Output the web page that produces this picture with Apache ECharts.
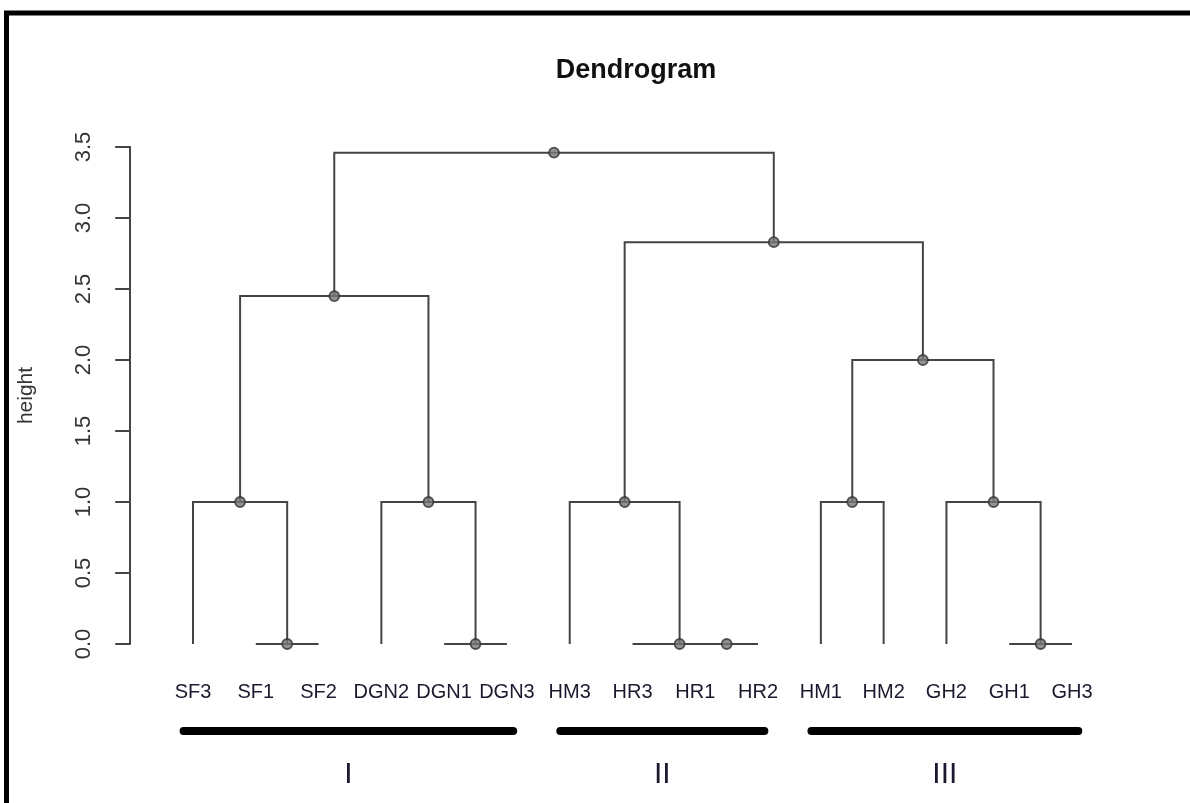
<!DOCTYPE html>
<html>
<head>
<meta charset="utf-8">
<script src="https://cdn.jsdelivr.net/npm/echarts@6/dist/echarts.min.js"></script>
<style>
html,body{margin:0;padding:0;background:#fff;}
#chart{width:1190px;height:803px;}
</style>
</head>
<body>
<div id="chart"></div>
<script>
// ---- data ----
const leafLabels = ['SF3','SF1','SF2','DGN2','DGN1','DGN3','HM3','HR3','HR1','HR2','HM1','HM2','GH2','GH1','GH3'];
// hclust-style merges: negative = leaf (1-based), positive = earlier merge (1-based)
const mergeLeft   = [-2, -5, -9, -8, -14, -1, -4, -7, -11, -13, 6, 9, 8, 11];
const mergeRight  = [-3, -6, -10, 3, -15, 1, 2, 4, -12, 5, 7, 10, 12, 13];
const mergeHeight = [0, 0, 0, 0, 0, 1.0, 1.0, 1.0, 1.0, 1.0, 2.45, 2.0, 2.83, 3.46];
const groupNames = ['I', 'II', 'III'];
const groupFirstLeaf = [1, 7, 11];
const groupLastLeaf = [6, 10, 15];
const yMin = 0, yMax = 3.5, yStep = 0.5;

// ---- build tree geometry in data units ----
const nodeX = [], nodeH = [];
function childX(c){ return c < 0 ? -c : nodeX[c-1]; }
function childH(c){ return c < 0 ? 0 : nodeH[c-1]; }
const segData = [], pointData = [];
for (let k = 0; k < mergeHeight.length; k++){
  const l = mergeLeft[k], r = mergeRight[k], h = mergeHeight[k];
  const xl = childX(l), xr = childX(r);
  nodeX.push((xl + xr) / 2); nodeH.push(h);
  segData.push([xl, childH(l), xr, childH(r), h]);
  pointData.push([(xl + xr) / 2, h]);
}
const leafData = leafLabels.map((n, i) => [i + 1, 0, i]);
const groupData = groupNames.map((n, i) => [groupFirstLeaf[i], groupLastLeaf[i], i]);

const FONT = 'Liberation Sans, Arial, sans-serif';
const LEAF_GAP = 62.786;
const X_MIN = 1 - 68 / LEAF_GAP, X_MAX = leafLabels.length + 1;
const chart = echarts.init(document.getElementById('chart'));
chart.setOption({
  backgroundColor: '#fff',
  animation: false,
  title: {
    text: 'Dendrogram', left: 631, top: 52, textAlign: 'center',
    textStyle: { fontFamily: FONT, fontSize: 27, fontWeight: 'bold', color: '#111' }
  },
  grid: { left: 125, top: 147, width: (X_MAX - X_MIN) * LEAF_GAP, height: 497 },
  xAxis: {
    type: 'value', min: X_MIN, max: X_MAX, show: false
  },
  yAxis: {
    type: 'value', min: yMin, max: yMax, interval: yStep,
    name: 'height', nameLocation: 'middle', nameRotate: 90, nameGap: 88,
    nameTextStyle: { fontFamily: FONT, fontSize: 21, color: '#333' },
    axisLine: { show: true, lineStyle: { color: '#444', width: 2 } },
    axisTick: { show: true, length: 15, lineStyle: { color: '#444', width: 2 } },
    splitLine: { show: false },
    axisLabel: {
      rotate: 90, margin: 30, fontFamily: FONT, fontSize: 22, color: '#333',
      formatter: v => v.toFixed(1)
    }
  },
  graphic: [{
    type: 'polyline', silent: true,
    shape: { points: [[6.5, 803], [6.5, 13], [1190, 13]] },
    style: { stroke: '#000', lineWidth: 5, fill: null }
  }],
  series: [
    {
      type: 'custom', name: 'tree', data: segData,
      encode: { x: [0, 2], y: [1, 3, 4] },
      renderItem: (params, api) => {
        const xl = api.value(0), hl = api.value(1), xr = api.value(2), hr = api.value(3), h = api.value(4);
        return {
          type: 'polyline',
          shape: { points: [api.coord([xl, hl]), api.coord([xl, h]), api.coord([xr, h]), api.coord([xr, hr])] },
          style: { stroke: '#444', lineWidth: 2, fill: null }
        };
      }
    },
    {
      type: 'scatter', name: 'nodes', data: pointData, symbol: 'circle', symbolSize: 10, z: 5,
      itemStyle: { color: '#777', borderColor: '#333', borderWidth: 1.8 }
    },
    {
      type: 'custom', name: 'leaves', data: leafData, clip: false,
      encode: { x: 0, y: 1 },
      renderItem: (params, api) => {
        const p = api.coord([api.value(0), api.value(1)]);
        return {
          type: 'text', x: p[0], y: p[1] + 48,
          style: { text: leafLabels[api.value(2)], align: 'center', verticalAlign: 'middle',
                   font: '20px ' + FONT, fill: '#1a1a2e' }
        };
      }
    },
    {
      type: 'custom', name: 'groups', data: groupData, clip: false,
      encode: { x: [0, 1] },
      renderItem: (params, api) => {
        const a = api.coord([api.value(0) - 0.15, 0]);
        const b = api.coord([api.value(1) + 0.1, 0]);
        const y = a[1] + 87;
        return {
          type: 'group',
          children: [
            { type: 'line', shape: { x1: a[0], y1: y, x2: b[0], y2: y },
              style: { stroke: '#000', lineWidth: 8, lineCap: 'round' } },
            { type: 'text', x: (a[0] + b[0]) / 2, y: a[1] + 131,
              style: { text: groupNames[api.value(2)], align: 'center', verticalAlign: 'middle',
                       font: '30px ' + FONT, fill: '#1a1a2e' } }
          ]
        };
      }
    }
  ]
});
</script>
</body>
</html>
